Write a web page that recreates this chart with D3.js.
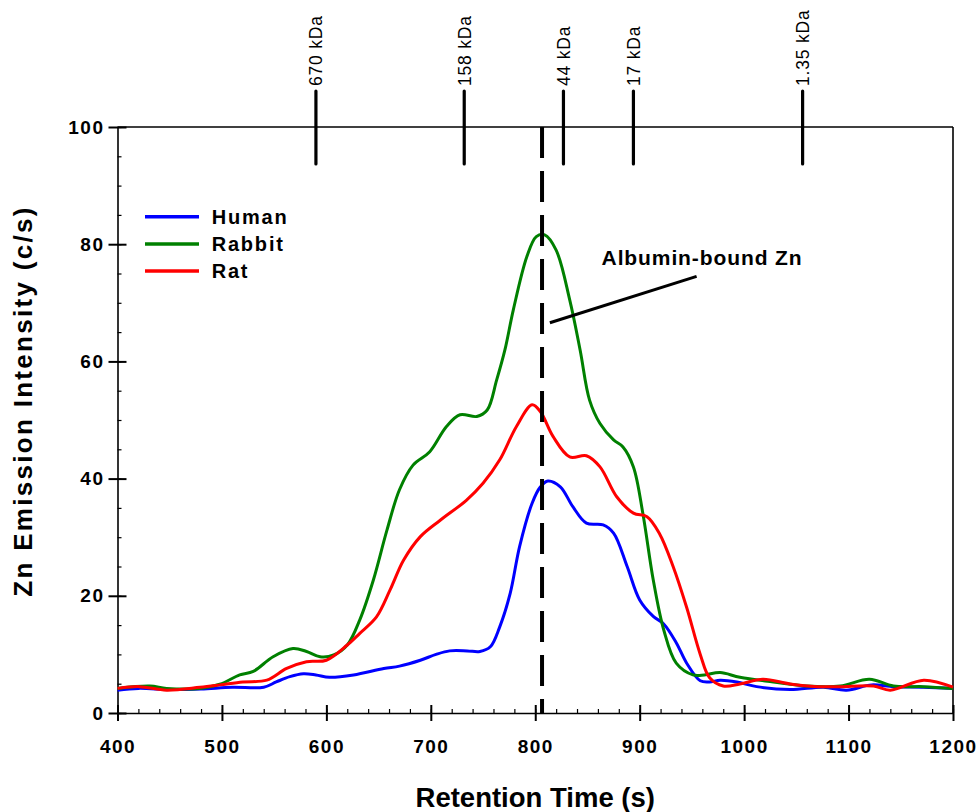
<!DOCTYPE html>
<html>
<head>
<meta charset="utf-8">
<script src="https://cdn.jsdelivr.net/npm/d3@7"></script>
<style>
  body { margin: 0; background: #fff; }
  svg { display: block; font-family: Arial, "Liberation Sans", sans-serif; }
  .axis path, .axis line { stroke: #000; }
  .axis text { font-size: 19px; font-weight: bold; letter-spacing: 1.5px; fill: #000; }
</style>
</head>
<body>
<div id="chart"></div>
<script>
// values, [retention time (s), Zn intensity (c/s)]
const humanData = [
  [400, 3.9], [420, 4.2], [450, 4.0], [480, 4.1], [510, 4.4], [540, 4.4],
  [552, 5.3], [565, 6.2], [578, 6.7], [590, 6.5], [603, 6.1], [626, 6.5],
  [655, 7.6], [670, 8.0], [690, 9.0], [705, 10.0], [718, 10.6], [735, 10.6],
  [747, 10.5], [757, 11.3], [766, 14.7], [776, 20.4], [785, 28.4], [797, 35.8],
  [805, 38.6], [812, 39.6], [824, 38.6], [836, 35.2], [849, 32.4], [865, 32.1],
  [875, 30.7], [888, 25.0], [900, 19.3], [913, 16.5], [923, 15.2], [935, 12.0],
  [945, 8.5], [958, 5.5], [967, 5.3], [977, 5.6], [993, 5.3], [1012, 4.5],
  [1044, 4.0], [1076, 4.4], [1098, 3.9], [1122, 4.8], [1143, 4.5], [1172, 4.4],
  [1200, 4.2]
];

const rabbitData = [
  [400, 4.2], [431, 4.6], [447, 4.2], [479, 4.2], [498, 4.9], [517, 6.5],
  [530, 7.1], [549, 9.6], [568, 11.0], [581, 10.5], [594, 9.6], [607, 9.9],
  [620, 11.6], [632, 15.9], [645, 22.7], [658, 31.2], [670, 38.1], [683, 42.3],
  [699, 44.6], [715, 48.9], [728, 50.9], [744, 50.6], [754, 51.7], [763, 56.8],
  [771, 62.0], [779, 68.8], [792, 77.9], [801, 81.3], [809, 81.6], [820, 79.0],
  [833, 70.5], [843, 61.9], [852, 53.4], [862, 49.4], [875, 46.6], [884, 45.4],
  [894, 42.0], [903, 34.1], [913, 22.7], [923, 14.2], [935, 8.5], [951, 6.5],
  [962, 6.5], [977, 6.9], [996, 6.1], [1028, 5.3], [1060, 4.6], [1092, 4.6],
  [1120, 5.75], [1143, 4.6], [1172, 4.5], [1200, 4.2]
];

const ratData = [
  [400, 4.2], [421, 4.5], [447, 3.9], [479, 4.4], [498, 4.8], [520, 5.3],
  [543, 5.6], [562, 7.6], [581, 8.75], [600, 9.0], [620, 11.6], [632, 13.6],
  [648, 16.4], [661, 21.0], [674, 26.1], [690, 30.1], [709, 32.9], [734, 36.3],
  [750, 39.2], [766, 43.2], [782, 48.9], [797, 52.6], [805, 51.4], [817, 47.2],
  [833, 43.7], [849, 43.9], [862, 42.0], [878, 36.9], [894, 34.1], [907, 33.5],
  [919, 30.6], [932, 25.0], [945, 18.0], [958, 10.0], [967, 6.0], [980, 4.6],
  [996, 4.95], [1018, 5.75], [1044, 4.95], [1070, 4.5], [1092, 4.5], [1124, 4.6],
  [1140, 3.9], [1172, 5.6], [1200, 4.4]
];

const seriesNames = ["Human", "Rabbit", "Rat"];
const seriesColors = ["#0000ff", "#008000", "#ff0000"];

// size-exclusion standards on top
const markerTimes = [590, 732, 827, 894, 1056];
const markerLabels = ["670 kDa", "158 kDa", "44 kDa", "17 kDa", "1.35 kDa"];

const albuminTime = 806.5;
const annotationText = "Albumin-bound Zn";
const annotationLine = [[814, 66.6], [954.5, 74.5]];
const annotationAt = [863.5, 76.4];

const xTicks = [400, 500, 600, 700, 800, 900, 1000, 1100, 1200];
const yTicks = [0, 20, 40, 60, 80, 100];

const width = 980;
const height = 812;
const margin = { top: 127, right: 27, bottom: 99, left: 117.5 };

const x = d3.scaleLinear().domain([400, 1200]).range([margin.left, width - margin.right]);
const y = d3.scaleLinear().domain([0, 100]).range([height - margin.bottom, margin.top]);

const svg = d3.select("#chart").append("svg")
  .attr("width", width)
  .attr("height", height);

// minor ticks (inside only)
svg.append("g")
  .attr("class", "axis")
  .attr("transform", `translate(0,${y(0)})`)
  .call(d3.axisBottom(x).tickValues(d3.range(400, 1201, 20)).tickSize(-4).tickFormat(""))
  .call((g) => g.select(".domain").remove())
  .selectAll("line").attr("stroke-width", 1.2);

svg.append("g")
  .attr("class", "axis")
  .attr("transform", `translate(${x(400)},0)`)
  .call(d3.axisLeft(y).tickValues(d3.range(0, 101, 5)).tickSize(-4).tickFormat(""))
  .call((g) => g.select(".domain").remove())
  .selectAll("line").attr("stroke-width", 1.2);

// major ticks cross the axis
const xAxis = svg.append("g")
  .attr("class", "axis")
  .attr("transform", `translate(0,${y(0)})`)
  .call(d3.axisBottom(x).tickValues(xTicks).tickFormat(d3.format("d"))
    .tickSizeInner(8).tickSizeOuter(0).tickPadding(19));
xAxis.select(".domain").attr("stroke-width", 1.6);
xAxis.selectAll(".tick line").attr("y1", -8).attr("stroke-width", 2);

const yAxis = svg.append("g")
  .attr("class", "axis")
  .attr("transform", `translate(${x(400)},0)`)
  .call(d3.axisLeft(y).tickValues(yTicks).tickFormat(d3.format("d"))
    .tickSizeInner(9).tickSizeOuter(0).tickPadding(4));
yAxis.select(".domain").attr("stroke-width", 1.6);
yAxis.selectAll(".tick line").attr("x1", 9).attr("stroke-width", 2);

// frame top and right
svg.append("line")
  .attr("x1", x(400)).attr("x2", x(1200))
  .attr("y1", y(100)).attr("y2", y(100))
  .attr("stroke", "#000").attr("stroke-width", 1.6);
svg.append("line")
  .attr("x1", x(1200)).attr("x2", x(1200))
  .attr("y1", y(100)).attr("y2", y(0))
  .attr("stroke", "#000").attr("stroke-width", 1.6);

// curves
const line = d3.line()
  .x((d) => x(d[0]))
  .y((d) => y(d[1]))
  .curve(d3.curveCatmullRom.alpha(0.5));

[humanData, rabbitData, ratData].forEach((data, i) => {
  svg.append("path")
    .datum(data)
    .attr("fill", "none")
    .attr("stroke", seriesColors[i])
    .attr("stroke-width", 3)
    .attr("stroke-linejoin", "round")
    .attr("d", line);
});

// dashed albumin line
svg.append("line")
  .attr("x1", x(albuminTime)).attr("x2", x(albuminTime))
  .attr("y1", y(100)).attr("y2", y(0))
  .attr("stroke", "#000")
  .attr("stroke-width", 4)
  .attr("stroke-dasharray", "31,13");

// molecular weight markers
const markers = svg.append("g")
  .selectAll("g")
  .data(markerTimes)
  .join("g")
  .attr("transform", (d) => `translate(${x(d)},0)`);

markers.append("line")
  .attr("y1", 91).attr("y2", 164)
  .attr("stroke", "#000")
  .attr("stroke-width", 3.2)
  .attr("stroke-linecap", "round");

markers.append("text")
  .attr("transform", "translate(0,86) rotate(-90)")
  .attr("dy", "0.36em")
  .attr("font-size", 17.5)
  .attr("letter-spacing", "0.8px")
  .text((d, i) => markerLabels[i]);

// annotation
svg.append("line")
  .attr("x1", x(annotationLine[0][0])).attr("y1", y(annotationLine[0][1]))
  .attr("x2", x(annotationLine[1][0])).attr("y2", y(annotationLine[1][1]))
  .attr("stroke", "#000")
  .attr("stroke-width", 3);

svg.append("text")
  .attr("x", x(annotationAt[0]))
  .attr("y", y(annotationAt[1]))
  .attr("font-size", 21)
  .attr("font-weight", "bold")
  .attr("letter-spacing", "0.9px")
  .text(annotationText);

// legend
const legend = svg.append("g")
  .selectAll("g")
  .data(seriesNames)
  .join("g")
  .attr("transform", (d, i) => `translate(145,${216.7 + i * 27.2})`);

legend.append("line")
  .attr("x2", 54)
  .attr("stroke", (d, i) => seriesColors[i])
  .attr("stroke-width", 3.5);

legend.append("text")
  .attr("x", 66.7)
  .attr("dy", "0.36em")
  .attr("font-size", 20)
  .attr("font-weight", "bold")
  .attr("letter-spacing", "1.8px")
  .text((d) => d);

// axis titles
svg.append("text")
  .attr("x", (x(400) + x(1200)) / 2)
  .attr("y", 806.5)
  .attr("text-anchor", "middle")
  .attr("font-size", 27.5)
  .attr("font-weight", "bold")
  .text("Retention Time (s)");

svg.append("text")
  .attr("transform", "translate(31.5,401) rotate(-90)")
  .attr("text-anchor", "middle")
  .attr("font-size", 26)
  .attr("font-weight", "bold")
  .attr("letter-spacing", "2.3px")
  .text("Zn Emission Intensity (c/s)");
</script>
</body>
</html>
